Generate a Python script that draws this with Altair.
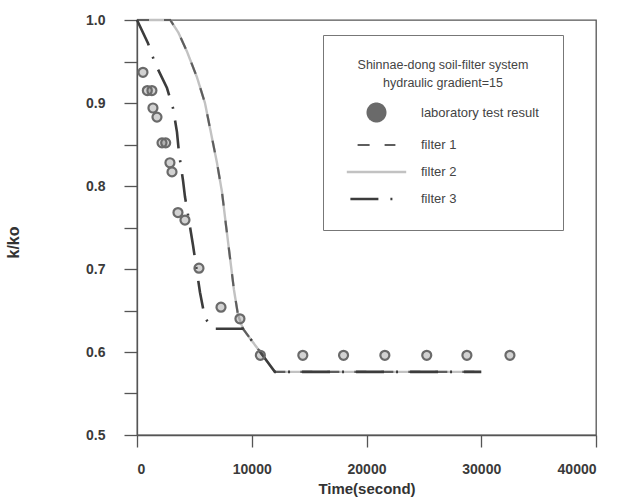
import altair as alt
import pandas as pd

series_names = ["laboratory test result", "filter 1", "filter 2", "filter 3"]

lab_time = [520, 900, 1300, 1390, 1740, 2180, 2500, 2870, 3050, 3570, 4180,
            5400, 7320, 8970, 10750, 14450, 18000, 21600, 25250, 28750, 32500]
lab_k = [0.937, 0.915, 0.915, 0.894, 0.883, 0.852, 0.852, 0.828, 0.817, 0.768, 0.759,
         0.701, 0.654, 0.640, 0.596, 0.596, 0.596, 0.596, 0.596, 0.596, 0.596]

f1_time = [0, 2900, 3600, 4355, 5226, 5923, 6446, 6969, 7404, 7753, 8101, 8449, 8798, 9233, 12020, 30000]
f1_k = [1.0, 1.0, 0.985, 0.962, 0.931, 0.900, 0.864, 0.828, 0.793, 0.753, 0.714, 0.675, 0.645, 0.628, 0.576, 0.576]

f2_time = [0, 2900, 3600, 4355, 5226, 5923, 6446, 6969, 7404, 7753, 8101, 8449, 8798, 9233, 12020, 30000]
f2_k = [1.0, 1.0, 0.985, 0.962, 0.931, 0.900, 0.864, 0.828, 0.793, 0.753, 0.714, 0.675, 0.645, 0.628, 0.576, 0.576]

f3_time = [0, 958, 1568, 2613, 3136, 3484, 3659, 4007, 4181, 4617, 4878, 5488, 5923, 6620, 9233, 12020, 30000]
f3_k = [1.0, 0.972, 0.948, 0.918, 0.894, 0.865, 0.840, 0.807, 0.787, 0.751, 0.729, 0.672, 0.641, 0.628, 0.628, 0.576, 0.576]

x_ticks = [0, 10000, 20000, 30000, 40000]
y_ticks = [0.5, 0.55, 0.6, 0.65, 0.7, 0.75, 0.8, 0.85, 0.9, 0.95, 1.0]

legend_title = ["Shinnae-dong soil-filter system", "hydraulic gradient=15"]

FONT = "Liberation Sans"

df_lab = pd.DataFrame({"time": lab_time, "k": lab_k, "series": series_names[0]})
line_tables = {
    "filter 1": pd.DataFrame({"time": f1_time, "k": f1_k, "series": "filter 1"}),
    "filter 2": pd.DataFrame({"time": f2_time, "k": f2_k, "series": "filter 2"}),
    "filter 3": pd.DataFrame({"time": f3_time, "k": f3_k, "series": "filter 3"}),
}

color_scale = alt.Scale(domain=series_names, range=["#6a6a6a", "#5e5e5e", "#c2c2c2", "#3c3c3c"])
shape_scale = alt.Scale(domain=series_names,
                        range=["circle", "M-2.1,0L2.1,0", "M-3.3,0L3.3,0", "M-2.9,0L2.9,0"])
dash_scale = alt.Scale(domain=series_names, range=[[1, 0], [12, 15], [1, 0], [28, 12, 2, 12]])
width_scale = alt.Scale(domain=series_names, range=[2, 2.6, 3.6, 2.6])

legend = alt.Legend(
    title=legend_title,
    orient="none",
    legendX=186,
    legendY=15,
    padding=24,
    strokeColor="#777777",
    fillColor="white",
    titleFont=FONT,
    titleFontSize=12.5,
    titleFontWeight="normal",
    titleColor="#444444",
    titleAnchor="middle",
    titleAlign="center",
    titleLineHeight=18,
    titlePadding=13,
    labelFont=FONT,
    labelFontSize=13,
    labelColor="#444444",
    labelOffset=34,
    symbolOffset=19,
    symbolSize=324,
    symbolStrokeWidth=3.5,
    rowPadding=9,
)

x_enc = alt.X("time:Q", scale=alt.Scale(domain=[0, 40000], nice=False),
              axis=alt.Axis(values=x_ticks, format="d", title="Time(second)",
                            tickSize=12, labelPadding=15, titleY=46))
y_enc = alt.Y("k:Q", scale=alt.Scale(domain=[0.5, 1.0], nice=False, zero=False),
              axis=alt.Axis(values=y_ticks, title="k/ko", tickSize=13, labelPadding=19,
                            labelExpr="abs(round(datum.value*10) - datum.value*10) < 0.01 ? format(datum.value, '.1f') : ''",
                            titleX=-116, titleY=222, titleFontSize=16))

layers = []
for name in ["filter 2", "filter 1", "filter 3"]:
    layers.append(
        alt.Chart(line_tables[name]).mark_line().encode(
            x=x_enc, y=y_enc,
            color=alt.Color("series:N", scale=color_scale, legend=legend),
            strokeDash=alt.StrokeDash("series:N", scale=dash_scale, legend=legend),
            strokeWidth=alt.StrokeWidth("series:N", scale=width_scale, legend=None),
        )
    )

points = alt.Chart(df_lab).mark_point(filled=True, fillOpacity=0.3, strokeWidth=2.2).encode(
    x=x_enc, y=y_enc,
    color=alt.Color("series:N", scale=color_scale, legend=legend),
    stroke=alt.Stroke("series:N", scale=color_scale, legend=legend),
    shape=alt.Shape("series:N", scale=shape_scale, legend=legend),
)
layers.append(points)

chart = alt.layer(*layers).properties(
    width=459, height=415,
    autosize="none",
    padding={"left": 137, "top": 20, "right": 23, "bottom": 63},
).configure_view(
    stroke="#555555", strokeWidth=1.3
).configure_axis(
    grid=False,
    domainColor="#555555", domainWidth=1.3,
    tickColor="#555555", tickWidth=1.3,
    labelFont=FONT, labelFontSize=14, labelFontWeight="bold", labelColor="#3a3a3a",
    titleFont=FONT, titleFontSize=15, titleFontWeight="bold", titleColor="#333333",
).configure_point(size=81)

chart.save("out.html", embed_options={"renderer": "svg", "actions": False})
